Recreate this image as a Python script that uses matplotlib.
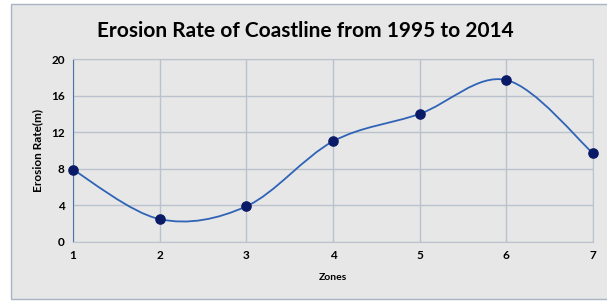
import numpy as np
import matplotlib
matplotlib.use('Agg')
import matplotlib.pyplot as plt
from matplotlib.path import Path
from matplotlib.patches import PathPatch, Rectangle

plt.rcParams['font.family'] = ['Lato', 'DejaVu Sans']

zones = [1, 2, 3, 4, 5, 6, 7]
erosion = [7.9, 2.5, 3.9, 11.0, 14.0, 17.7, 9.7]
y_ticks = [0, 4, 8, 12, 16, 20]

BG = '#e7e7e7'
GRID = '#b9c2cd'
LINE = '#2f63b6'
MARK = '#0a1a66'

fig = plt.figure(figsize=(6.07, 3.01), dpi=100)
fig.add_artist(Rectangle((11 / 607, 2 / 301), 1.0, 295 / 301,
                         transform=fig.transFigure, facecolor=BG,
                         edgecolor='#a9b4c3', linewidth=1.0, zorder=-10))

ax = fig.add_axes([73 / 607, 59 / 301, 520 / 607, 183 / 301])
ax.set_facecolor(BG)

# Excel-style smoothed line: cubic Bezier segments (Catmull-Rom tangents)
x = np.array(zones, dtype=float)
y = np.array(erosion, dtype=float)
px = np.concatenate([[x[0]], x, [x[-1]]])
py = np.concatenate([[y[0]], y, [y[-1]]])
verts = [(x[0], y[0])]
codes = [Path.MOVETO]
for i in range(len(x) - 1):
    j = i + 1
    c1 = (px[j] + (px[j + 1] - px[j - 1]) / 6, py[j] + (py[j + 1] - py[j - 1]) / 6)
    c2 = (px[j + 1] - (px[j + 2] - px[j]) / 6, py[j + 1] - (py[j + 2] - py[j]) / 6)
    verts += [c1, c2, (x[j], y[j])]
    codes += [Path.CURVE4] * 3
ax.add_patch(PathPatch(Path(verts, codes), fill=False, edgecolor=LINE,
                       linewidth=1.3, zorder=3))
ax.scatter(zones, erosion, s=44, color=MARK, zorder=4, clip_on=False)

ax.set_xlim(1, 7)
ax.set_ylim(0, 20)
ax.set_xticks(zones)
ax.set_yticks(y_ticks)
ax.grid(True, color=GRID, linewidth=1.0)
ax.set_axisbelow(True)
for s in ['top', 'right', 'bottom']:
    ax.spines[s].set_color(GRID)
ax.spines['left'].set_color('#4f72a8')
ax.tick_params(length=0, labelsize=8.5, pad=6)
for lbl in ax.get_xticklabels() + ax.get_yticklabels():
    lbl.set_fontweight('bold')

ax.set_xlabel('Zones', fontsize=7.5, fontweight='bold')
ax.set_ylabel('Erosion Rate(m)', fontsize=8.5, fontweight='bold')
ax.xaxis.set_label_coords(0.5, -0.17)
ax.yaxis.set_label_coords(-0.058, 0.5)
fig.text(305 / 607, 1 - 31 / 301, 'Erosion Rate of Coastline from 1995 to 2014',
         ha='center', va='center', fontsize=15, fontweight='bold')

fig.savefig('out.png', dpi=100)
